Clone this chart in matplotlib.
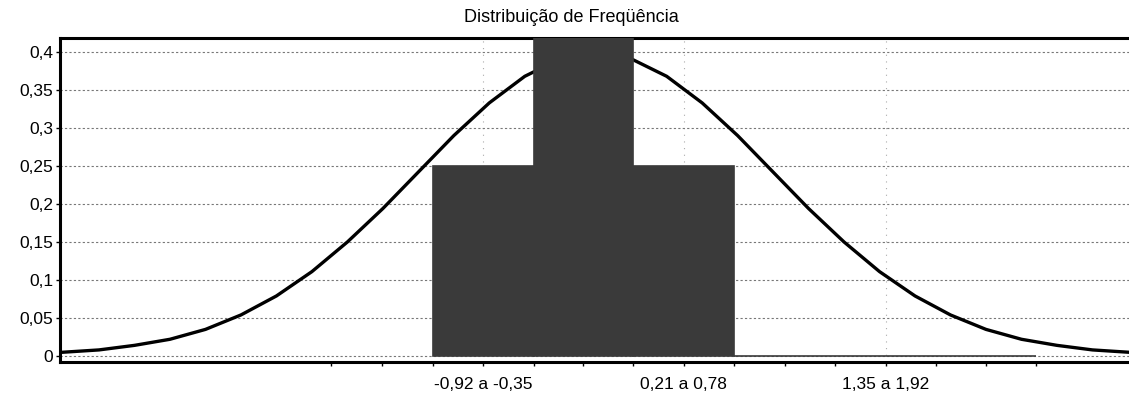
import matplotlib.pyplot as plt
import numpy as np

plt.rcParams['font.family'] = ['Liberation Sans', 'DejaVu Sans']

# classes do histograma (limites) e frequencias relativas
bin_lo = [-0.92, -0.35, 0.21, 0.78, 1.35, 1.92]
bin_hi = [-0.35, 0.21, 0.78, 1.35, 1.92, 2.48]
freq = [0.25, 0.50, 0.25, 0.0, 0.0, 0.0]

# rotulos mostrados no eixo x (centro da classe)
label_pos = [-0.635, 0.495, 1.635]
label_txt = ['-0,92 a -0,35', '0,21 a 0,78', '1,35 a 1,92']

# marcas do eixo x (limites e centros das classes)
tick_pos = [-1.49, -1.205, -0.92, -0.635, -0.35, -0.07, 0.21, 0.495,
            0.78, 1.065, 1.35, 1.635, 1.92, 2.2, 2.48]

# curva normal
curve_x = [-3.0, -2.8, -2.6, -2.4, -2.2, -2.0, -1.8, -1.6, -1.4, -1.2,
           -1.0, -0.8, -0.6, -0.4, -0.2, 0.0, 0.2, 0.4, 0.6, 0.8, 1.0,
           1.2, 1.4, 1.6, 1.8, 2.0, 2.2, 2.4, 2.6, 2.8, 3.0]
curve_y = [0.005, 0.008, 0.014, 0.022, 0.035, 0.054, 0.079, 0.111, 0.15,
           0.194, 0.242, 0.29, 0.333, 0.368, 0.391, 0.398, 0.391, 0.368,
           0.333, 0.29, 0.242, 0.194, 0.15, 0.111, 0.079, 0.054, 0.035,
           0.022, 0.014, 0.008, 0.005]

yticks = [0, 0.05, 0.1, 0.15, 0.2, 0.25, 0.3, 0.35, 0.4]
ylabels = ['0', '0,05', '0,1', '0,15', '0,2', '0,25', '0,3', '0,35', '0,4']

fig = plt.figure(figsize=(11.29, 4.01), dpi=100)
ax = fig.add_axes([60 / 1129, 1 - 362 / 401, 1075 / 1129, 324 / 401])

widths = np.array(bin_hi) - np.array(bin_lo)
ax.bar(bin_lo, freq, width=widths, align='edge', color='#3a3a3a',
       edgecolor='#3a3a3a', linewidth=1.2, zorder=3)
ax.plot(curve_x, curve_y, color='black', lw=2.4, zorder=2,
        solid_joinstyle='round')

ax.set_xlim(-3.02, 3.04)
ax.set_ylim(-0.0079, 0.4184)

ax.set_yticks(yticks)
ax.set_yticklabels(ylabels, fontsize=12.5)
ax.set_xticks(tick_pos, minor=True)
ax.set_xticks(label_pos)
ax.set_xticklabels(label_txt, fontsize=12.5)
ax.tick_params(axis='x', which='both', length=3, width=1, pad=8)
ax.tick_params(axis='y', length=3, width=1, pad=2)

ax.grid(axis='y', color='#777777', linestyle=(0, (2, 2)), linewidth=0.8, zorder=0)
ax.grid(axis='x', color='#aaaaaa', linestyle=(0, (1, 5)), linewidth=0.8, zorder=0)
ax.set_axisbelow(True)

for s in ['left', 'bottom', 'top']:
    ax.spines[s].set_linewidth(2.2)
ax.spines['right'].set_visible(False)

fig.text(571 / 1129, 1 - 17 / 401, 'Distribuição de Freqüência',
         ha='center', va='center', fontsize=13)

fig.savefig('out.png', dpi=100)
